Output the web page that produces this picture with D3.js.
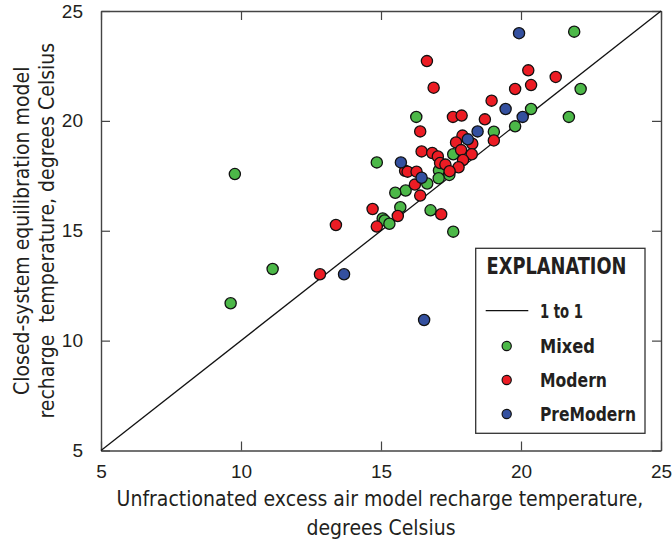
<!DOCTYPE html>
<html>
<head>
<meta charset="utf-8">
<script src="https://cdn.jsdelivr.net/npm/d3@7"></script>
<style>
  html, body { margin: 0; padding: 0; background: #fff; }
  svg { display: block; }
  .narrow { font-family: "Liberation Sans Narrow", "DejaVu Sans Condensed", "Roboto Condensed", sans-serif; }
</style>
</head>
<body>
<svg id="chart" width="672" height="546"></svg>
<script>
// Recharge temperatures (degrees Celsius): unfractionated excess air model (x)
// against closed-system equilibration model (y), grouped by groundwater age class.
const mixedX = [9.78, 9.63, 11.13, 14.85, 16.26, 21.90, 22.13, 21.71, 20.36, 19.79, 19.03, 17.58,
                17.07, 17.44, 17.06, 16.65, 15.88, 15.51, 15.69, 15.06, 15.13, 15.30, 16.77, 17.58];
const mixedY = [17.58, 11.70, 13.26, 18.11, 20.18, 24.06, 21.45, 20.18, 20.54, 19.75, 19.51, 18.48,
                17.74, 17.54, 17.39, 17.15, 16.83, 16.73, 16.07, 15.56, 15.47, 15.32, 15.93, 14.96];

const modernX = [16.64, 16.88, 20.26, 21.24, 20.36, 19.79, 18.95, 18.71, 17.57, 17.88, 16.40, 17.91,
                 17.68, 18.26, 17.86, 18.24, 19.03, 16.45, 16.83, 17.03, 17.11, 17.30, 17.93, 17.77,
                 17.45, 15.86, 15.95, 16.27, 16.21, 16.40, 14.70, 15.60, 14.85, 13.39, 17.15, 12.82];
const modernY = [22.72, 21.51, 22.30, 22.00, 21.63, 21.45, 20.92, 20.07, 20.18, 20.24, 19.52, 19.33,
                 19.02, 18.96, 18.67, 18.48, 19.11, 18.61, 18.54, 18.38, 18.08, 18.01, 18.22, 17.89,
                 17.71, 17.73, 17.69, 17.69, 17.10, 16.60, 15.99, 15.67, 15.19, 15.26, 15.75, 13.02];

const premodernX = [19.93, 19.45, 20.06, 18.45, 18.10, 15.71, 16.45, 13.68, 16.54];
const premodernY = [23.99, 20.54, 20.18, 19.52, 19.16, 18.11, 17.41, 13.02, 10.94];

const groups = [
  { name: "Mixed",     xs: mixedX,     ys: mixedY,     color: "#4cb848", w: 55 },
  { name: "Modern",    xs: modernX,    ys: modernY,    color: "#ec1c24", w: 67 },
  { name: "PreModern", xs: premodernX, ys: premodernY, color: "#34509f", w: 96 }
];

const tickValues = [5, 10, 15, 20, 25];
const xTitle = ["Unfractionated excess air model recharge temperature,", "degrees Celsius"];
const yTitle = ["Closed-system equilibration model", "recharge  temperature, degrees Celsius"];
const legendTitle = "EXPLANATION";
const lineLabel = "1 to 1";

const W = 672, H = 546;
const margin = { left: 101, right: 11, top: 11, bottom: 95.5 };
const svg = d3.select("#chart");
const ink = "#231f20";

const x = d3.scaleLinear().domain([5, 25]).range([margin.left, W - margin.right]);
const y = d3.scaleLinear().domain([5, 25]).range([H - margin.bottom, margin.top]);

// Frame with inward ticks on all four sides
const tickLen = 9;
const axes = svg.append("g").attr("class", "narrow");
axes.append("g").attr("transform", `translate(0,${y(5)})`)
  .call(d3.axisBottom(x).tickValues(tickValues).tickSizeInner(-tickLen).tickSizeOuter(0).tickPadding(14));
axes.append("g").attr("transform", `translate(${x(5)},0)`)
  .call(d3.axisLeft(y).tickValues(tickValues).tickSizeInner(-tickLen).tickSizeOuter(0).tickPadding(18));
axes.append("g").attr("transform", `translate(0,${y(25)})`)
  .call(d3.axisTop(x).tickValues(tickValues).tickSizeInner(-tickLen).tickSizeOuter(0).tickFormat(""));
axes.append("g").attr("transform", `translate(${x(25)},0)`)
  .call(d3.axisRight(y).tickValues(tickValues).tickSizeInner(-tickLen).tickSizeOuter(0).tickFormat(""));
axes.selectAll(".domain").attr("stroke", "#444").attr("stroke-width", 1.4);
axes.selectAll(".tick line").attr("stroke", "#444").attr("stroke-width", 1.2);
axes.selectAll(".tick text").attr("fill", ink).attr("font-size", 19);

// 1:1 line
svg.append("line")
  .attr("x1", x(5)).attr("y1", y(5)).attr("x2", x(25)).attr("y2", y(25))
  .attr("stroke", "#111").attr("stroke-width", 1.3);

// Points
groups.forEach(g => {
  svg.append("g").selectAll("circle")
    .data(g.xs.map((v, i) => [v, g.ys[i]]))
    .join("circle")
    .attr("cx", d => x(d[0]))
    .attr("cy", d => y(d[1]))
    .attr("r", 5.6)
    .attr("fill", g.color)
    .attr("stroke", "#111")
    .attr("stroke-width", 1.3);
});

// Axis titles
const titles = svg.append("g").attr("class", "narrow").attr("fill", ink).attr("font-size", 21);
titles.append("text").attr("x", (x(5) + x(25)) / 2 - 1).attr("y", 506)
  .attr("text-anchor", "middle").text(xTitle[0]);
titles.append("text").attr("x", (x(5) + x(25)) / 2).attr("y", 535)
  .attr("text-anchor", "middle").text(xTitle[1]);
yTitle.forEach((t, i) => {
  titles.append("text")
    .attr("transform", `translate(${29 + i * 25},${(y(5) + y(25)) / 2}) rotate(-90)`)
    .attr("text-anchor", "middle")
    .style("white-space", "pre")
    .text(t);
});

// Legend (bold condensed labels, fitted to their widths)
const leg = svg.append("g").attr("class", "narrow");
leg.append("rect").attr("x", 475.7).attr("y", 248.3).attr("width", 169.3).attr("height", 185)
  .attr("fill", "#fff").attr("stroke", "#333").attr("stroke-width", 1.3);
leg.append("text").attr("x", 486.5).attr("y", 274).attr("font-size", 23).attr("font-weight", "bold")
  .attr("textLength", 140).attr("lengthAdjust", "spacingAndGlyphs")
  .attr("fill", ink).text(legendTitle);
leg.append("line").attr("x1", 485.7).attr("x2", 528.3).attr("y1", 310.7).attr("y2", 310.7)
  .attr("stroke", "#111").attr("stroke-width", 1.3);
leg.append("text").attr("x", 540).attr("y", 317.5).attr("font-size", 20).attr("font-weight", "bold")
  .attr("textLength", 43).attr("lengthAdjust", "spacingAndGlyphs")
  .attr("fill", ink).text(lineLabel);
groups.forEach((g, i) => {
  const cy = 346 + i * 34;
  leg.append("circle").attr("cx", 506.7).attr("cy", cy).attr("r", 4.6)
    .attr("fill", g.color).attr("stroke", "#111").attr("stroke-width", 1.2);
  leg.append("text").attr("x", 540).attr("y", cy + 7).attr("font-size", 20).attr("font-weight", "bold")
    .attr("textLength", g.w).attr("lengthAdjust", "spacingAndGlyphs")
    .attr("fill", ink).text(g.name);
});
</script>
</body>
</html>
